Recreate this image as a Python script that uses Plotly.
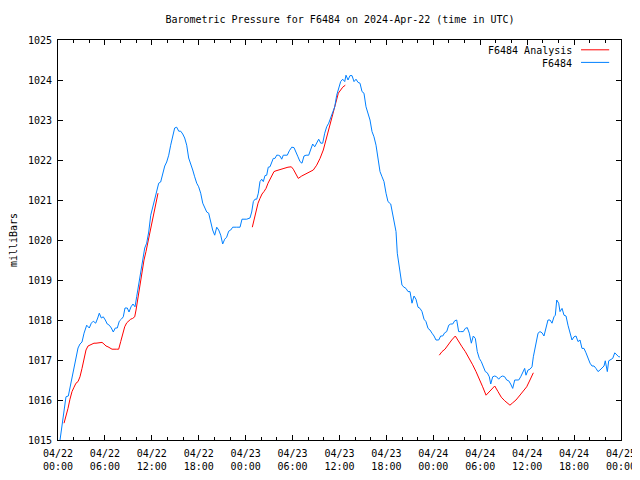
import pandas as pd
import plotly.graph_objects as go

# hours since 2024-04-22 00:00 UTC
obs_hours = [0.26,0.51,0.77,1.02,1.32,1.53,1.79,2.05,2.30,2.56,2.81,3.07,3.33,3.67,4.00,4.26,4.51,4.82,5.08,5.28,
 5.54,5.79,6.05,6.30,6.56,6.82,7.07,7.33,7.58,7.84,8.10,8.35,8.57,8.86,9.08,9.34,9.59,9.85,10.06,10.32,
 10.58,10.83,11.09,11.34,11.60,11.86,12.11,12.37,12.62,12.88,13.13,13.39,13.65,13.90,14.16,14.41,14.67,14.92,15.18,15.44,
 15.69,15.95,16.20,16.46,16.71,16.97,17.23,17.48,17.74,17.99,18.25,18.51,18.76,19.02,19.27,19.53,19.78,20.04,20.30,20.55,
 20.81,21.06,21.32,21.57,21.83,22.09,22.34,22.85,23.28,23.53,24.13,24.55,24.77,24.98,25.19,25.41,25.62,25.83,26.05,26.26,
 26.47,26.69,26.89,27.11,27.33,27.53,27.75,27.97,28.17,28.39,28.61,28.81,29.16,29.32,29.58,29.89,30.18,30.44,30.69,30.95,
 31.20,31.46,31.72,32.06,32.32,32.57,32.83,33.08,33.34,33.60,33.85,34.11,34.36,34.62,34.87,35.13,35.39,35.64,35.90,36.15,
 36.41,36.67,36.83,37.09,37.34,37.60,37.86,38.11,38.37,38.62,38.88,39.13,39.39,39.65,39.90,40.16,40.41,40.67,40.92,41.18,
 41.44,41.69,41.95,42.20,42.55,42.80,43.06,43.23,43.39,43.57,43.83,43.99,44.25,44.50,44.76,45.02,45.27,45.53,45.78,46.04,
 46.30,46.55,46.81,47.06,47.32,47.57,47.83,48.09,48.34,48.69,48.94,49.20,49.45,49.71,49.97,50.22,50.48,50.73,50.99,51.24,
 51.50,51.83,52.09,52.34,52.60,52.86,53.11,53.37,53.62,53.88,54.13,54.39,54.65,54.90,55.16,55.34,55.59,55.85,56.10,56.36,
 56.62,56.87,57.13,57.38,57.64,57.89,58.15,58.41,58.66,58.92,59.17,59.43,59.68,59.85,60.11,60.36,60.62,60.79,60.96,61.13,
 61.39,61.64,61.90,62.15,62.41,62.66,62.92,63.18,63.43,63.60,63.78,64.03,64.20,64.46,64.71,64.97,65.22,65.48,65.73,65.99,
 66.25,66.50,66.76,67.01,67.27,67.52,67.78,68.04,68.29,68.55,68.80,69.06,69.31,69.57,69.83,69.99,70.25,70.43,70.68,70.94,
 71.20,71.45,71.71,71.87]
obs_mb = [1015.0,1015.37,1015.8,1016.08,1016.1,1016.3,1016.5,1016.75,1017.05,1017.3,1017.4,1017.45,1017.67,1017.87,1017.8,1017.92,1017.97,1017.92,1018.05,1018.17,
 1018.05,1018.08,1018.0,1017.9,1017.87,1017.8,1017.7,1017.8,1017.8,1017.97,1018.02,1018.08,1018.3,1018.3,1018.2,1018.33,1018.4,1018.33,1018.58,1018.87,
 1019.17,1019.42,1019.8,1019.92,1020.2,1020.62,1020.82,1021.07,1021.25,1021.42,1021.45,1021.67,1021.85,1021.95,1022.12,1022.37,1022.57,1022.8,1022.82,1022.72,
 1022.72,1022.65,1022.55,1022.37,1022.05,1021.92,1021.75,1021.58,1021.42,1021.33,1021.17,1020.92,1020.8,1020.7,1020.67,1020.45,1020.25,1020.12,1020.32,1020.25,
 1020.12,1019.9,1020.02,1020.07,1020.22,1020.25,1020.32,1020.32,1020.32,1020.52,1020.52,1020.55,1020.7,1020.96,1021.02,1021.02,1021.17,1021.46,1021.52,1021.46,
 1021.61,1021.62,1021.82,1021.83,1021.96,1022.04,1022.04,1022.12,1022.12,1022.1,1022.02,1022.12,1022.12,1022.12,1022.23,1022.32,1022.31,1022.21,1022.08,1021.96,
 1021.92,1022.1,1022.12,1022.12,1022.25,1022.4,1022.33,1022.42,1022.52,1022.42,1022.42,1022.67,1022.83,1022.92,1023.07,1023.21,1023.33,1023.62,1023.83,1023.96,
 1024.02,1023.96,1024.12,1024.0,1024.11,1024.11,1023.96,1024.02,1023.94,1023.92,1023.71,1023.67,1023.33,1023.17,1023.0,1022.71,1022.58,1022.37,1022.08,1021.71,
 1021.58,1021.46,1021.17,1020.96,1020.9,1020.67,1020.42,1020.21,1019.67,1019.42,1019.12,1018.87,1018.82,1018.79,1018.71,1018.71,1018.42,1018.6,1018.52,1018.32,
 1018.29,1018.21,1018.02,1017.96,1017.79,1017.75,1017.67,1017.6,1017.5,1017.5,1017.6,1017.6,1017.68,1017.71,1017.87,1017.9,1017.9,1017.98,1018.0,1017.71,
 1017.71,1017.71,1017.79,1017.81,1017.67,1017.42,1017.6,1017.54,1017.21,1017.04,1016.96,1016.83,1016.71,1016.68,1016.58,1016.4,1016.58,1016.6,1016.58,1016.52,
 1016.58,1016.6,1016.58,1016.5,1016.48,1016.4,1016.29,1016.5,1016.5,1016.5,1016.58,1016.68,1016.79,1016.62,1016.75,1016.77,1016.83,1017.08,1017.25,1017.46,
 1017.67,1017.71,1017.68,1017.6,1017.79,1018.0,1018.0,1017.92,1018.08,1018.12,1018.5,1018.42,1018.21,1018.29,1018.12,1018.1,1017.87,1017.65,1017.5,1017.58,
 1017.6,1017.46,1017.5,1017.29,1017.29,1017.18,1017.04,1016.92,1016.85,1016.85,1016.79,1016.71,1016.75,1016.79,1016.85,1016.98,1016.71,1016.98,1017.0,1017.04,
 1017.18,1017.12,1017.08,1017.08]

# analysis: three separate runs (None = gap)
ana_hours = [0.77,1.02,1.28,1.53,1.79,2.05,2.30,2.56,2.81,3.07,3.33,3.58,3.84,4.09,4.35,4.60,4.86,5.12,5.37,5.63,
 5.88,6.14,6.39,6.65,6.91,7.51,7.76,8.02,8.27,8.53,8.79,9.04,9.30,9.55,9.81,9.98,10.23,10.49,10.74,11.00,
 11.25,11.51,11.77,12.02,12.28,12.53,12.79,None,
 24.85,25.07,25.32,25.58,25.83,26.09,26.34,26.60,26.86,27.11,27.37,27.62,27.88,28.39,28.90,29.41,29.84,30.09,30.44,30.73,
 31.17,31.81,32.65,33.08,33.51,33.93,34.36,34.79,35.21,35.55,35.85,36.15,36.41,36.74,None,
 48.76,49.11,49.49,49.92,50.35,50.81,51.24,51.67,52.09,52.60,53.03,53.46,53.88,54.31,54.74,55.25,55.85,56.27,56.69,57.13,
 57.46,57.80,58.15,58.57,58.99,59.43,59.94,60.36,60.79]
ana_mb = [1015.42,1015.58,1015.79,1016.02,1016.21,1016.32,1016.42,1016.46,1016.58,1016.79,1017.04,1017.25,1017.35,1017.37,1017.39,1017.42,1017.42,1017.43,1017.44,1017.44,
 1017.4,1017.35,1017.33,1017.29,1017.27,1017.27,1017.27,1017.46,1017.67,1017.83,1017.93,1017.98,1018.02,1018.04,1018.08,1018.25,1018.58,1018.92,1019.21,1019.5,
 1019.71,1019.96,1020.21,1020.5,1020.75,1020.96,1021.17,None,
 1020.32,1020.5,1020.71,1020.92,1021.04,1021.15,1021.21,1021.29,1021.42,1021.52,1021.62,1021.71,1021.73,1021.77,1021.79,1021.82,1021.83,1021.77,1021.62,1021.54,
 1021.6,1021.67,1021.75,1021.87,1022.04,1022.25,1022.58,1022.92,1023.21,1023.5,1023.67,1023.75,1023.82,1023.87,None,
 1017.12,1017.21,1017.27,1017.4,1017.5,1017.6,1017.48,1017.33,1017.21,1017.04,1016.88,1016.71,1016.54,1016.33,1016.12,1016.23,1016.35,1016.21,1016.07,1015.98,
 1015.93,1015.87,1015.93,1016.0,1016.1,1016.21,1016.33,1016.5,1016.68]

start = pd.Timestamp("2024-04-22 00:00")
def to_time(hours):
    return [None if h is None else start + pd.Timedelta(hours=h) for h in hours]

series_names = ["F6484 Analysis", "F6484"]
series_colors = ["#ff0000", "#0080ff"]
FONT = "DejaVu Sans Mono"

fig = go.Figure()
fig.add_trace(go.Scatter(x=to_time(ana_hours), y=ana_mb, mode="lines", name=series_names[0],
                         line=dict(color=series_colors[0], width=1), connectgaps=False, showlegend=False))
fig.add_trace(go.Scatter(x=to_time(obs_hours), y=obs_mb, mode="lines", name=series_names[1],
                         line=dict(color=series_colors[1], width=1), showlegend=False))

# gnuplot-style legend: text on the left, line sample on the right
for i, (nm, col) in enumerate(zip(series_names, series_colors)):
    yy = 0.9735 - i * 0.0315
    fig.add_annotation(text=nm, xref="paper", yref="paper", x=0.9165, y=yy, xanchor="right", yanchor="middle",
                       showarrow=False, font=dict(family=FONT, size=10, color="black"))
    fig.add_shape(type="line", xref="paper", yref="paper", x0=0.929, x1=0.979, y0=yy + 0.002, y1=yy + 0.002,
                  line=dict(color=col, width=1))

# the page body adds an 8px offset, so the figure is 632x472 and margins are shifted accordingly
fig.update_layout(
    width=632, height=472,
    margin=dict(l=50, r=19, t=32, b=40, autoexpand=False),
    paper_bgcolor="white", plot_bgcolor="white",
    font=dict(family=FONT, size=10, color="black"),
    title=dict(text="Barometric Pressure for F6484 on 2024-Apr-22 (time in UTC)", x=0.5253, xanchor="center",
               xref="container", yref="container", y=0.9746, yanchor="middle", automargin=False,
               font=dict(family=FONT, size=10)),
)
fig.update_xaxes(
    type="date", range=["2024-04-22 00:00", "2024-04-25 00:00"], automargin=False,
    dtick=6 * 3600 * 1000, tick0="2024-04-22 00:00", tickformat="%m/%d<br>%H:%M",
    ticks="inside", ticklen=5, tickcolor="black", showline=True, linecolor="black", linewidth=1,
    mirror="allticks", showgrid=False, zeroline=False, ticklabelstandoff=4,
    minor=dict(dtick=2 * 3600 * 1000, ticks="inside", ticklen=3, tickcolor="black", showgrid=False),
    tickfont=dict(family=FONT, size=10),
)
fig.update_yaxes(
    range=[1015, 1025], dtick=1, ticks="inside", ticklen=5, tickcolor="black", automargin=False,
    showline=True, linecolor="black", linewidth=1, mirror="allticks", showgrid=False, zeroline=False,
    ticklabelstandoff=3,
    title=dict(text="milliBars", font=dict(family=FONT, size=10), standoff=13),
    tickfont=dict(family=FONT, size=10),
)
fig.write_html("out.html")
